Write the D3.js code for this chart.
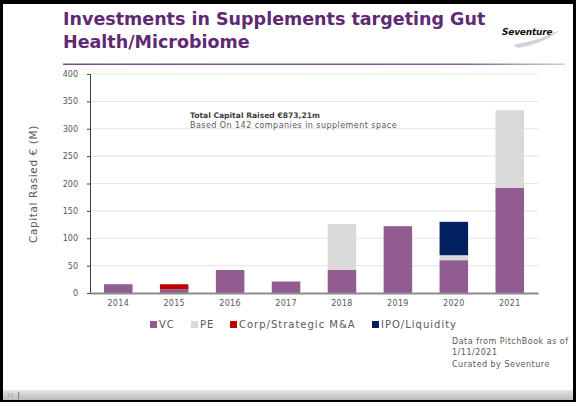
<!DOCTYPE html>
<html><head><meta charset="utf-8">
<script src="https://cdn.jsdelivr.net/npm/d3@7"></script>
<style>body{margin:0;background:#fff}svg{display:block}</style>
</head><body>
<svg id="c" width="576" height="402"></svg>
<script>
const years = ["2014","2015","2016","2017","2018","2019","2020","2021"];
const vc    = [16, 7, 42, 21, 42, 122, 60, 192];
const pe    = [0, 0, 0, 0, 84, 0, 9, 142];
const corp  = [0, 9, 0, 0, 0, 0, 0, 0];
const ipo   = [0, 0, 0, 0, 0, 0, 61, 0];
const seriesNames = ["VC","PE","Corp/Strategic M&A","IPO/Liquidity"];
const seriesColors = ["#915c8f","#d9d9d9","#c00000","#002060"];
const yTicks = [0,50,100,150,200,250,300,350,400];

const svg = d3.select("#c");
const font = "DejaVu Sans, Verdana, sans-serif";

// frame
svg.append("rect").attr("x",0).attr("y",0).attr("width",576).attr("height",402).attr("fill","#000");
svg.append("rect").attr("x",3).attr("y",4).attr("width",570).attr("height",386).attr("fill","#fff");
const g0 = svg.append("defs");
const bg = g0.append("linearGradient").attr("id","bot").attr("x1",0).attr("y1",0).attr("x2",0).attr("y2",1);
bg.append("stop").attr("offset","0").attr("stop-color","#e6e6e6");
bg.append("stop").attr("offset","1").attr("stop-color","#bcbcbc");
svg.append("rect").attr("x",3).attr("y",390).attr("width",570).attr("height",10).attr("fill","url(#bot)");
svg.append("text").attr("x",7).attr("y",397).attr("font-size",5).attr("fill","#999").attr("font-family",font).text("19");
svg.append("rect").attr("x",18).attr("y",392).attr("width",1.2).attr("height",7).attr("fill","#888");

// title
const lg = g0.append("linearGradient").attr("id","tl").attr("x1",0).attr("x2",1);
lg.append("stop").attr("offset","0").attr("stop-color","#7b4a8c");
lg.append("stop").attr("offset","0.8").attr("stop-color","#8b5d9b");
lg.append("stop").attr("offset","1").attr("stop-color","#d8c8dd");
svg.append("rect").attr("x",63).attr("y",63.5).attr("width",502).attr("height",1.5).attr("fill","url(#tl)");
const title = svg.append("text").attr("font-family",font).attr("font-weight","bold").attr("font-size",17.5).attr("fill","#5e2a73");
title.append("tspan").attr("x",63).attr("y",25).text("Investments in Supplements targeting Gut");
title.append("tspan").attr("x",63).attr("y",48).text("Health/Microbiome");

// logo
svg.append("text").attr("x",502).attr("y",35).attr("font-family",font).attr("font-weight","bold").attr("font-style","italic").attr("font-size",9).attr("letter-spacing",-0.2).attr("fill","#111").text("Seventure");
svg.append("path").attr("d","M513,45 C528,42 545,38 560,30 C550,39 535,45 518,48 Z").attr("fill","#d6d0de");

// chart
const x = d3.scaleBand().domain(years).range([90,538]).paddingInner(0.49).paddingOuter(0.25);
const y = d3.scaleLinear().domain([0,400]).range([293,74]);

const grid = svg.append("g");
grid.selectAll("line").data(yTicks.slice(1)).join("line")
  .attr("x1",90).attr("x2",538).attr("y1",d=>y(d)).attr("y2",d=>y(d))
  .attr("stroke","#e6e6e6").attr("stroke-width",1.2);

const yAxis = svg.append("g").attr("transform","translate(90,0)")
  .call(d3.axisLeft(y).tickValues(yTicks).tickSize(3).tickPadding(9));
yAxis.select(".domain").attr("stroke","#404040");
yAxis.selectAll(".tick line").attr("stroke","#404040");
yAxis.selectAll("text").attr("font-family",font).attr("font-size",8).attr("fill","#595959");

const data = years.map((yr,i)=>({year:yr, VC:vc[i], PE:pe[i], "Corp/Strategic M&A":corp[i], "IPO/Liquidity":ipo[i]}));
const stack = d3.stack().keys(seriesNames)(data);
svg.append("g").selectAll("g").data(stack).join("g")
  .attr("fill",(d,i)=>seriesColors[i])
  .selectAll("rect").data(d=>d).join("rect")
  .attr("x",d=>x(d.data.year)).attr("width",x.bandwidth())
  .attr("y",d=>y(d[1])).attr("height",d=>y(d[0])-y(d[1]));

const xAxis = svg.append("g").attr("transform","translate(0,293)")
  .call(d3.axisBottom(x).tickSize(0).tickPadding(7));
xAxis.select(".domain").attr("stroke","#8c8c8c").attr("stroke-width",2);
xAxis.selectAll("text").attr("font-family",font).attr("font-size",8).attr("letter-spacing",0.3).attr("fill","#595959");

// y title
svg.append("text").attr("transform","translate(37,184) rotate(-90)").attr("text-anchor","middle")
  .attr("font-family",font).attr("font-size",10.5).attr("letter-spacing",0.6).attr("fill","#595959").text("Capital Rasied € (M)");

// annotation
svg.append("text").attr("x",190).attr("y",118).attr("font-family",font).attr("font-weight","bold").attr("font-size",7.6).attr("fill","#404040").text("Total Capital Raised €873,21m");
svg.append("text").attr("x",190).attr("y",128).attr("font-family",font).attr("font-size",8).attr("letter-spacing",0.45).attr("fill","#595959").text("Based On 142 companies in supplement space");

// legend
const legX = [150, 191, 230, 372];
const leg = svg.append("g").selectAll("g").data(seriesNames).join("g")
  .attr("transform",(d,i)=>`translate(${legX[i]},320)`);
leg.append("rect").attr("width",7).attr("height",7).attr("y",1).attr("fill",(d,i)=>seriesColors[i]);
leg.append("text").attr("x",9).attr("y",8).attr("font-family",font).attr("font-size",10).attr("letter-spacing",1.0).attr("fill","#595959").text(d=>d);

// source
const src = svg.append("text").attr("font-family",font).attr("font-size",8).attr("letter-spacing",0.5).attr("fill","#595959");
["Data from PitchBook as of","1/11/2021","Curated by Seventure"].forEach((t,i)=>
  src.append("tspan").attr("x",452).attr("y",344+i*11.3).text(t));
</script>
</body></html>
